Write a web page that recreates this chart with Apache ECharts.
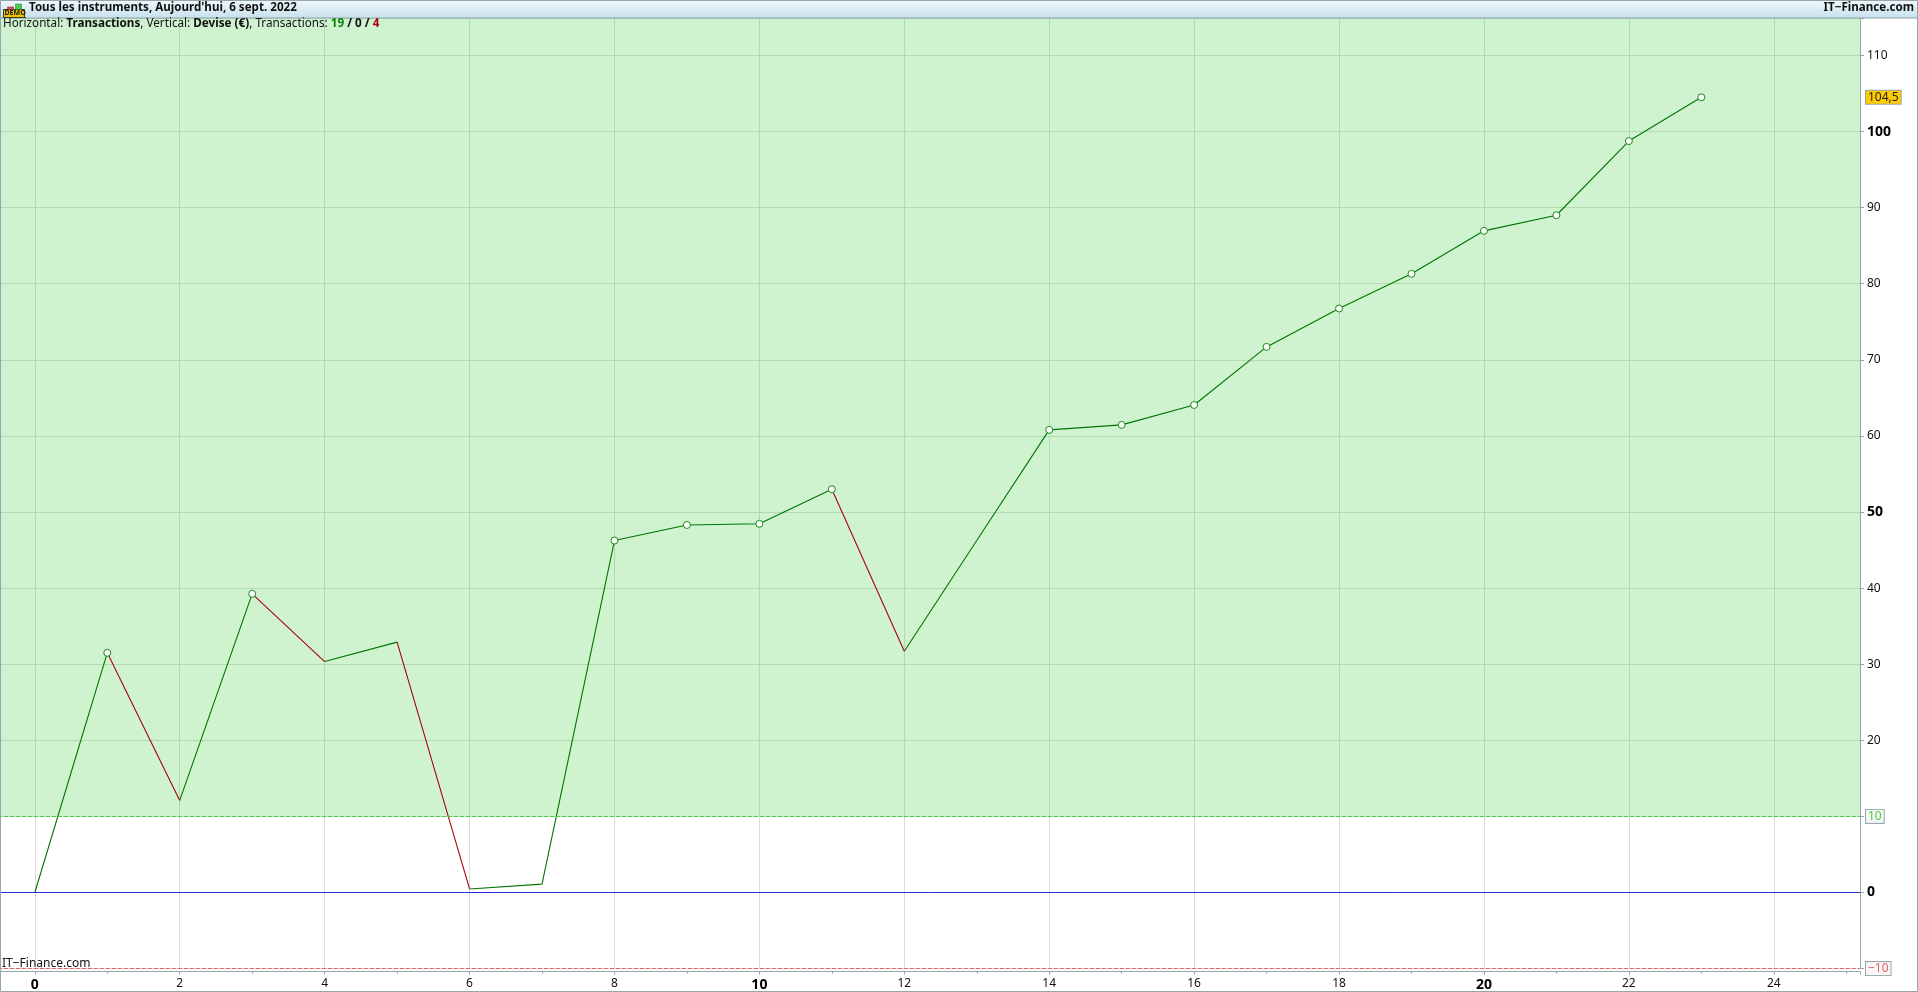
<!DOCTYPE html>
<html>
<head>
<meta charset="utf-8">
<style>html,body{margin:0;padding:0;background:#fff;overflow:hidden}#c{width:1918px;height:992px}</style>
<script src="https://cdn.jsdelivr.net/npm/echarts@6/dist/echarts.min.js"></script>
</head>
<body>
<div id="c"></div>
<script>
const transactions = [0,1,2,3,4,5,6,7,8,9,10,11,12,13,14,15,16,17,18,19,20,21,22,23];
const equity = [0,31.5,12.1,39.25,30.35,32.9,0.47,1.1,46.25,48.3,48.45,53,31.7,46.25,60.8,61.45,64.07,71.7,76.75,81.3,86.95,89,98.75,104.5];
const lastValueLabel = '104,5';
const upperLevel = 10;
const lowerLevel = -10;
const zeroLevel = 0;
const headerWins = '19', headerFlat = '0', headerLosses = '4';

const FONT = '"Noto Sans", sans-serif';
const upSeg = [], downSeg = [], highs = [];
let peak = 0;
equity.forEach((v, i) => {
  if (i > 0) {
    const seg = v >= equity[i - 1] ? upSeg : downSeg;
    seg.push([transactions[i - 1], equity[i - 1]], [transactions[i], v], [transactions[i], null]);
  }
  if (v > peak) { peak = v; highs.push([transactions[i], v]); }
});
const lineSeries = (data, color) => ({
  type: 'line', data, symbol: 'none', connectNulls: false, animation: false, z: 3,
  lineStyle: { color, width: 1.1 }
});
const boxLabel = (text, color, bg) => ({
  show: true, position: 'end', distance: 6, formatter: text, color,
  fontFamily: FONT, fontSize: 12, backgroundColor: bg,
  borderColor: '#96a5ad', borderWidth: 1, padding: [1, 2, 0, 2]
});
const chart = echarts.init(document.getElementById('c'), null, { renderer: 'canvas' });
chart.setOption({
  animation: false,
  backgroundColor: '#ffffff',
  grid: { left: -110.1, right: 58, top: 18, bottom: 23.4, show: false, outerBoundsMode: 'none', containLabel: false },
  xAxis: {
    type: 'value', min: -2, max: 25.19, interval: 2, offset: 3.1,
    axisLine: { onZero: false, lineStyle: { color: '#96a5ad', width: 1 } },
    axisTick: { show: true, length: 3, lineStyle: { color: '#96a5ad' } },
    minorTick: { show: true, splitNumber: 2, length: 2, lineStyle: { color: '#96a5ad' } },
    splitLine: { show: true, lineStyle: { color: '#dadcda', width: 1 } },
    showMinLabel: false, showMaxLabel: false,
    axisLabel: {
      margin: 6, color: '#111', fontFamily: FONT, fontSize: 12,
      formatter: v => {
        if (v % 2 !== 0 || v < 0) return '';
        return v % 10 === 0 ? '{b|' + v + '}' : String(v);
      },
      rich: { b: { fontWeight: 'bold', fontSize: 14, color: '#000', fontFamily: FONT } }
    }
  },
  yAxis: {
    type: 'value', position: 'right', min: -10, max: 114.92, interval: 10,
    axisLine: { show: true, onZero: false, lineStyle: { color: '#8fa8a5', width: 1 } },
    axisTick: { show: true, length: 4, lineStyle: { color: '#96a5ad' } },
    splitLine: { show: true, lineStyle: { color: '#dadcda', width: 1 } },
    showMinLabel: false, showMaxLabel: false,
    axisLabel: {
      margin: 7, color: '#111', fontFamily: FONT, fontSize: 12,
      formatter: v => {
        if (v % 10 !== 0 || v === upperLevel || v === lowerLevel) return '';
        return v % 50 === 0 ? '{b|' + v + '}' : String(v);
      },
      rich: { b: { fontWeight: 'bold', fontSize: 14, color: '#000', fontFamily: FONT } }
    }
  },
  series: [
    {
      type: 'line', data: [], silent: true, z: 1,
      markArea: {
        silent: true,
        itemStyle: { color: 'rgba(63,207,63,0.25)' },
        data: [[{ yAxis: upperLevel }, { yAxis: 114.92 }]]
      },
      markLine: {
        silent: true, symbol: 'none', animation: false,
        data: [
          { yAxis: zeroLevel, lineStyle: { color: '#2a2ad8', type: 'solid', width: 1 }, label: { show: false } },
          { yAxis: upperLevel, lineStyle: { color: '#44cc44', type: 'dashed', width: 1 }, label: boxLabel(String(upperLevel), '#44cc44', '#f6f6f6') },
          { yAxis: lowerLevel, lineStyle: { color: '#e86060', type: 'dashed', width: 1 }, label: boxLabel('\u2212' + Math.abs(lowerLevel), '#e86060', '#f6f6f6') },
          { yAxis: equity[equity.length - 1], lineStyle: { color: 'rgba(0,0,0,0)', width: 1 }, label: boxLabel(lastValueLabel, '#222', '#ffcc00') }
        ]
      }
    },
    lineSeries(upSeg, '#007400'),
    lineSeries(downSeg, '#a80010'),
    {
      type: 'line', data: highs, z: 4, symbol: 'circle', symbolSize: 7, animation: false,
      showAllSymbol: true, lineStyle: { opacity: 0 },
      itemStyle: { color: '#ffffff', borderColor: '#1a8a1a', borderWidth: 1 }
    }
  ],
  graphic: [
    { type: 'rect', z: 50, shape: { x: 0, y: 0, width: 1918, height: 18 },
      style: { fill: new echarts.graphic.LinearGradient(0, 0, 0, 1, [{ offset: 0, color: '#f2f9fc' }, { offset: 1, color: '#c6e0ec' }]), stroke: '#96a5ad', lineWidth: 1 } },
    { type: 'rect', z: 51, shape: { x: 3.5, y: 9.5, width: 21, height: 8 }, style: { fill: '#f0c000', stroke: '#3a3a20', lineWidth: 1 } },
    { type: 'rect', z: 51, shape: { x: 7.5, y: 7, width: 6, height: 2.5 }, style: { fill: '#d8505a', stroke: '#7a2020', lineWidth: 0.5 } },
    { type: 'rect', z: 51, shape: { x: 15.5, y: 4, width: 6, height: 5.5 }, style: { fill: '#50c850', stroke: '#207a20', lineWidth: 0.5 } },
    { type: 'text', z: 52, x: 4.5, y: 9.5, style: { text: 'DEMO', fill: '#1a1a1a', font: 'bold 7px ' + FONT } },
    { type: 'text', z: 52, x: 29, y: 2, style: { text: "Tous les instruments, Aujourd'hui, 6 sept. 2022", fill: '#111', font: 'bold 11.6px ' + FONT } },
    { type: 'text', z: 52, x: 1914, y: 2, style: { text: 'IT\u2212Finance.com', fill: '#111', align: 'right', font: 'bold 11.6px ' + FONT } },
    { type: 'text', z: 52, x: 3, y: 18, style: {
        text: 'Horizontal: {b|Transactions}, Vertical: {b|Devise (\u20ac)}, Transactions: {g|' + headerWins + '} {b|/} {b|' + headerFlat + '} {b|/} {r|' + headerLosses + '}',
        fill: '#111', font: '11.7px ' + FONT,
        rich: {
          b: { fontWeight: 'bold', fontSize: 11.7, fontFamily: FONT, fill: '#111' },
          g: { fontWeight: 'bold', fontSize: 11.7, fontFamily: FONT, fill: '#0a800a' },
          r: { fontWeight: 'bold', fontSize: 11.7, fontFamily: FONT, fill: '#b00018' }
        } } },
    { type: 'text', z: 52, x: 2, y: 958, style: { text: 'IT\u2212Finance.com', fill: '#111', font: '12px ' + FONT } },
    { type: 'rect', z: 53, shape: { x: 0.5, y: 0.5, width: 1917, height: 991 }, style: { fill: 'none', stroke: '#96a5ad', lineWidth: 1 } }
  ]
});
</script>
</body>
</html>
